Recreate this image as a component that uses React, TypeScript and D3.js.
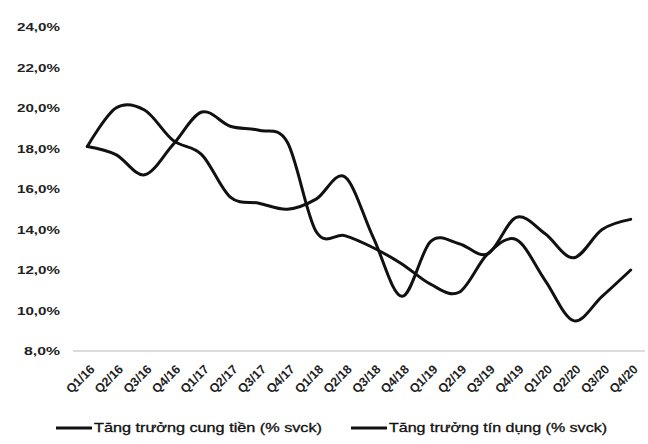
import React from "react";
import * as d3 from "d3";

const categories = [
  "Q1/16", "Q2/16", "Q3/16", "Q4/16",
  "Q1/17", "Q2/17", "Q3/17", "Q4/17",
  "Q1/18", "Q2/18", "Q3/18", "Q4/18",
  "Q1/19", "Q2/19", "Q3/19", "Q4/19",
  "Q1/20", "Q2/20", "Q3/20", "Q4/20",
];

// Tăng trưởng cung tiền (% svck)
const moneySupply = [
  18.1, 20.0, 19.9, 18.4,
  17.7, 15.6, 15.3, 15.0,
  15.5, 16.6, 13.6, 10.7,
  13.4, 13.3, 12.8, 14.6,
  13.8, 12.6, 14.0, 14.5,
];

// Tăng trưởng tín dụng (% svck)
const credit = [
  18.1, 17.7, 16.7, 18.2,
  19.8, 19.1, 18.9, 18.3,
  13.9, 13.7, 13.1, 12.3,
  11.3, 10.9, 12.8, 13.5,
  11.5, 9.5, 10.7, 12.0,
];

const yTicks = [8, 10, 12, 14, 16, 18, 20, 22, 24];
const seriesNames = ["Tăng trưởng cung tiền (% svck)", "Tăng trưởng tín dụng (% svck)"];

const W = 648;
const H = 444;

export default function App() {
  const x = d3.scaleBand<string>().domain(categories).range([73, 645]);
  const y = d3.scaleLinear().domain([8, 24]).range([351, 27]);
  const cx = (c: string) => (x(c) ?? 0) + x.bandwidth() / 2;

  const line = d3
    .line<number>()
    .x((_, i) => cx(categories[i]))
    .y((d) => y(d))
    .curve(d3.curveCardinal.tension(0));

  const series = [moneySupply, credit];
  const font = "'Liberation Sans', Arial, sans-serif";
  const fmt = (v: number) => v.toFixed(1).replace(".", ",") + "%";

  return (
    <div style={{ position: "absolute", left: 0, top: 0 }}>
      <svg width={W} height={H} style={{ display: "block", background: "#fff" }}>
        {yTicks.map((t) => (
          <text
            key={t}
            x={60}
            y={y(t)}
            dy="0.35em"
            textAnchor="end"
            fontFamily={font}
            fontSize={11.5}
            fontWeight="bold"
            fill="#222"
            textLength={t >= 10 ? 43 : 36}
            lengthAdjust="spacingAndGlyphs"
          >
            {fmt(t)}
          </text>
        ))}
        <line x1={73} x2={645} y1={y(8)} y2={y(8)} stroke="#bbb" strokeWidth={1} />
        {categories.map((c) => (
          <text
            key={c}
            transform={`translate(${cx(c) + 8},${y(8) + 19}) rotate(-45)`}
            textAnchor="end"
            fontFamily={font}
            fontSize={12.5}
            fontWeight="bold"
            fill="#222"
          >
            {c}
          </text>
        ))}
        {series.map((s, i) => (
          <path
            key={i}
            d={line(s) ?? ""}
            fill="none"
            stroke="#111"
            strokeWidth={3}
            strokeLinejoin="round"
            strokeLinecap="round"
          />
        ))}
        {seriesNames.map((n, i) => {
          const lx = i === 0 ? 56 : 351;
          return (
            <g key={n}>
              <line x1={lx} x2={lx + 36} y1={428} y2={428} stroke="#111" strokeWidth={3} />
              <text
                x={lx + 38}
                y={428}
                dy="0.35em"
                fontFamily={font}
                fontSize={12}
                fill="#111"
                stroke="#111"
                strokeWidth={0.3}
                textLength={i === 0 ? 228 : 218}
                lengthAdjust="spacingAndGlyphs"
              >
                {n}
              </text>
            </g>
          );
        })}
      </svg>
    </div>
  );
}
